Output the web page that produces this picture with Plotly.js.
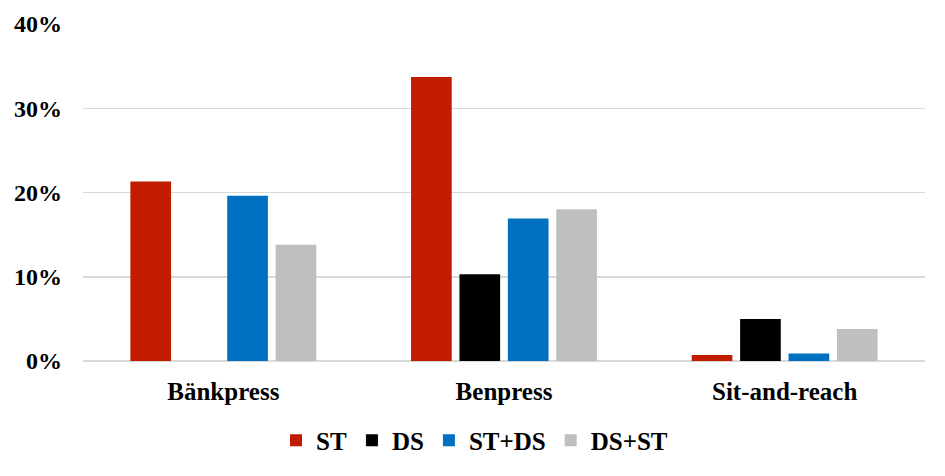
<!DOCTYPE html>
<html>
<head>
<meta charset="utf-8">
<script src="https://cdn.plot.ly/plotly-3.0.1.min.js"></script>
<style>
  html, body { margin: 0; padding: 0; background: #fff; }
  #chart { width: 945px; height: 476px; }
</style>
</head>
<body>
<div id="chart"></div>
<script>
var categories = ['Bänkpress', 'Benpress', 'Sit-and-reach'];
var seriesNames = ['ST', 'DS', 'ST+DS', 'DS+ST'];
var stValues = [21.3, 33.7, 0.7];
var dsValues = [0, 10.3, 5.0];
var stdsValues = [19.6, 16.9, 0.9];
var dsstValues = [13.8, 18.0, 3.8];
var colors = ['#C11B00', '#000000', '#0070C0', '#BFBFBF'];

var allValues = [stValues, dsValues, stdsValues, dsstValues];
var font = "'Liberation Serif', 'Times New Roman', serif";

var data = allValues.map(function (vals, i) {
    return {
        x: categories,
        y: vals,
        name: seriesNames[i],
        type: 'bar',
        marker: { color: colors[i] },
        hoverinfo: 'none'
    };
});

var layout = {
    width: 945,
    height: 476,
    barmode: 'group',
    bargap: 0.31,
    bargroupgap: 0.16,
    paper_bgcolor: '#fff',
    plot_bgcolor: '#fff',
    font: { family: font, size: 25, color: '#000', weight: 'bold' },
    showlegend: true,
    legend: {
        orientation: 'h',
        x: 0.465, xanchor: 'center',
        y: -0.236, yanchor: 'middle',
        font: { family: font, size: 25, color: '#000', weight: 'bold' },
        itemwidth: 30,
        traceorder: 'normal'
    },
    xaxis: {
        showgrid: false,
        showline: false,
        ticks: '',
        ticklabelstandoff: 13,
        tickfont: { family: font, size: 25, color: '#000', weight: 'bold' }
    },
    yaxis: {
        range: [0, 40],
        dtick: 10,
        ticksuffix: '%',
        showgrid: true,
        gridcolor: '#D9D9D9',
        gridwidth: 1.5,
        zeroline: true,
        zerolinecolor: '#D9D9D9',
        zerolinewidth: 1.5,
        showline: false,
        ticks: '',
        ticklabelstandoff: 20,
        tickfont: { family: font, size: 24, color: '#000', weight: 'bold' }
    },
    margin: { l: 83, r: 20, t: 24, b: 113 }
};

Plotly.newPlot('chart', data, layout, { displayModeBar: false, staticPlot: true });
</script>
</body>
</html>
